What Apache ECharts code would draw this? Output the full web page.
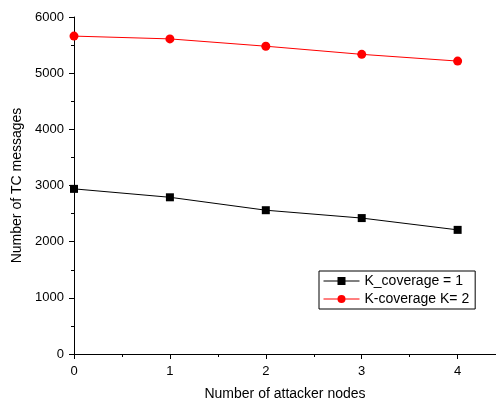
<!DOCTYPE html>
<html><head><meta charset="utf-8">
<script src="https://cdn.jsdelivr.net/npm/echarts@6/dist/echarts.min.js"></script>
<style>html,body{margin:0;padding:0;background:#fff}#c{width:496px;height:400px}</style>
</head><body><div id="c"></div>
<script>
var xValues = [0, 1, 2, 3, 4];
var seriesNames = ['K_coverage = 1', 'K-coverage K= 2'];
var k1Values = [2940, 2790, 2560, 2420, 2210];
var k2Values = [5660, 5610, 5480, 5335, 5215];

function pairs(xs, ys) { return xs.map(function (x, i) { return [x, ys[i]]; }); }

var chart = echarts.init(document.getElementById('c'));
var font = 'Liberation Sans, Arial, sans-serif';
chart.setOption({
  animation: false,
  backgroundColor: '#fff',
  grid: { left: 74, right: 0, top: 17, bottom: 46, containLabel: false, outerBoundsMode: 'none' },
  xAxis: {
    type: 'value', min: 0, max: 4.4, interval: 1,
    name: 'Number of attacker nodes', nameLocation: 'middle', nameGap: 33,
    nameTextStyle: { fontSize: 14, color: '#000', fontFamily: font },
    axisLine: { lineStyle: { color: '#000', width: 1 } },
    axisTick: { show: true, inside: false, length: 5, lineStyle: { color: '#000' } },
    minorTick: { show: true, splitNumber: 2, length: 3, lineStyle: { color: '#000' } },
    splitLine: { show: false },
    axisLabel: { fontSize: 13, color: '#000', fontFamily: font, margin: 11, showMaxLabel: false,
      formatter: function (v) { return Number.isInteger(v) ? String(v) : ''; } }
  },
  yAxis: {
    type: 'value', min: 0, max: 6000, interval: 1000,
    name: 'Number of TC messages', nameLocation: 'middle', nameGap: 48,
    nameTextStyle: { fontSize: 14, color: '#000', fontFamily: font },
    axisLine: { show: true, lineStyle: { color: '#000', width: 1 } },
    axisTick: { show: true, inside: false, length: 5, lineStyle: { color: '#000' } },
    minorTick: { show: true, splitNumber: 2, length: 3, lineStyle: { color: '#000' } },
    splitLine: { show: false },
    axisLabel: { fontSize: 13, color: '#000', fontFamily: font, margin: 10,
      formatter: function (v) { return String(v); } }
  },
  legend: {
    left: 319, top: 271, orient: 'vertical',
    borderColor: '#000', borderWidth: 1, padding: [3, 6, 3, 4], itemGap: 4,
    itemWidth: 36, itemHeight: 10,
    lineStyle: { width: 1 },
    textStyle: { fontSize: 14, color: '#000', fontFamily: font, padding: [0, 0, 0, 0] },
    data: seriesNames
  },
  series: [
    { name: seriesNames[0], type: 'line', data: pairs(xValues, k1Values),
      symbol: 'rect', symbolSize: 8, color: '#000',
      lineStyle: { color: '#000', width: 1 }, itemStyle: { color: '#000' } },
    { name: seriesNames[1], type: 'line', data: pairs(xValues, k2Values),
      symbol: 'circle', symbolSize: 9, color: '#ff0000',
      lineStyle: { color: '#ff0000', width: 1 }, itemStyle: { color: '#ff0000' } }
  ]
});
</script></body></html>
